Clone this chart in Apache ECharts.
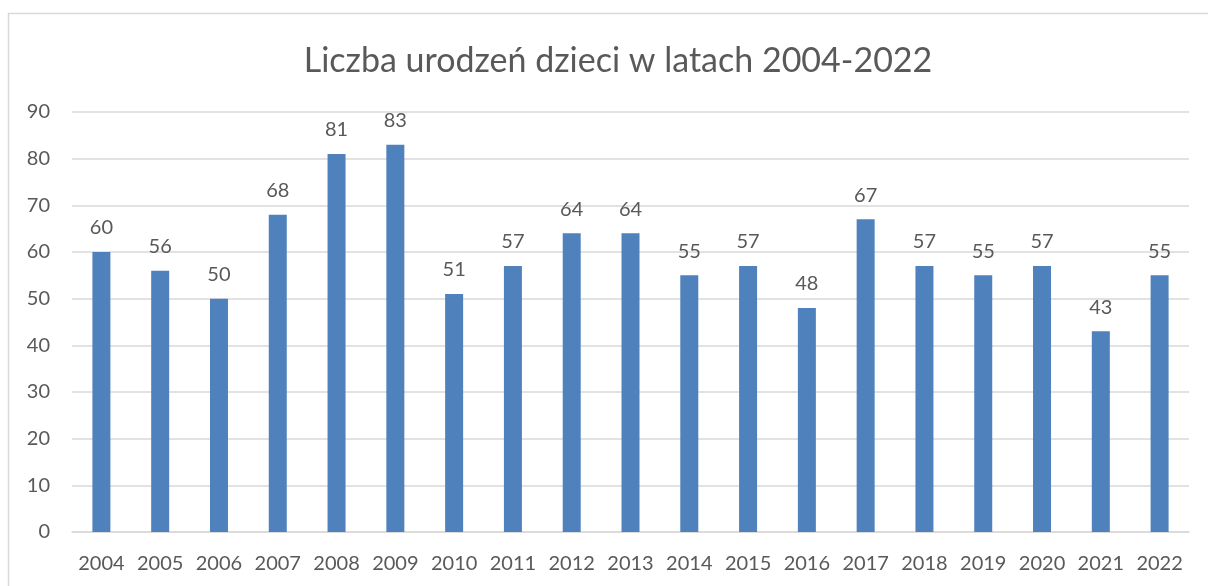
<!DOCTYPE html>
<html>
<head>
<meta charset="utf-8">
<script src="https://cdn.jsdelivr.net/npm/echarts@6/dist/echarts.min.js"></script>
<style>
    html, body { margin: 0; padding: 0; background: #fff; }
    #chart { width: 1208px; height: 586px; }
</style>
</head>
<body>
<div id="chart"></div>
<script>
// lata i liczba urodzeń
var years = ['2004', '2005', '2006', '2007', '2008', '2009', '2010', '2011', '2012', '2013',
             '2014', '2015', '2016', '2017', '2018', '2019', '2020', '2021', '2022'];
var births = [60, 56, 50, 68, 81, 83, 51, 57, 64, 64, 55, 57, 48, 67, 57, 55, 57, 43, 55];
var yTicks = [0, 10, 20, 30, 40, 50, 60, 70, 80, 90];

var myChart = echarts.init(document.getElementById('chart'));
var font = 'Lato, "Open Sans", sans-serif';

var option = {
    animation: false,
    title: {
        text: 'Liczba urodzeń dzieci w latach 2004-2022',
        left: 613,
        textAlign: 'center',
        top: 39,
        textStyle: {
            fontFamily: font,
            fontSize: 34,
            fontWeight: 'normal',
            color: '#595959'
        }
    },
    graphic: [{
        type: 'rect',
        shape: { x: 8.5, y: 13.5, width: 1220, height: 600 },
        style: { fill: null, stroke: '#d9d9d9', lineWidth: 1.5 },
        silent: true
    }],
    grid: {
        left: 72,
        right: 19,
        top: 112,
        bottom: 54
    },
    xAxis: {
        type: 'category',
        data: years,
        axisLine: { lineStyle: { color: '#d9d9d9', width: 1.5 } },
        axisTick: { show: false },
        axisLabel: {
            interval: 0,
            hideOverlap: false,
            margin: 22,
            fontFamily: font,
            fontSize: 20,
            color: '#595959'
        }
    },
    yAxis: {
        type: 'value',
        min: yTicks[0],
        max: yTicks[yTicks.length - 1],
        interval: 10,
        axisLine: { show: false },
        axisTick: { show: false },
        splitLine: { lineStyle: { color: '#d9d9d9', width: 1.5 } },
        axisLabel: {
            margin: 22,
            fontFamily: font,
            fontSize: 20,
            color: '#595959'
        }
    },
    series: [{
        type: 'bar',
        data: births,
        barWidth: 18,
        itemStyle: { color: '#4f81bd' },
        label: {
            show: true,
            position: 'top',
            distance: 14,
            fontFamily: font,
            fontSize: 20,
            color: '#595959'
        }
    }]
};

myChart.setOption(option);
</script>
</body>
</html>
